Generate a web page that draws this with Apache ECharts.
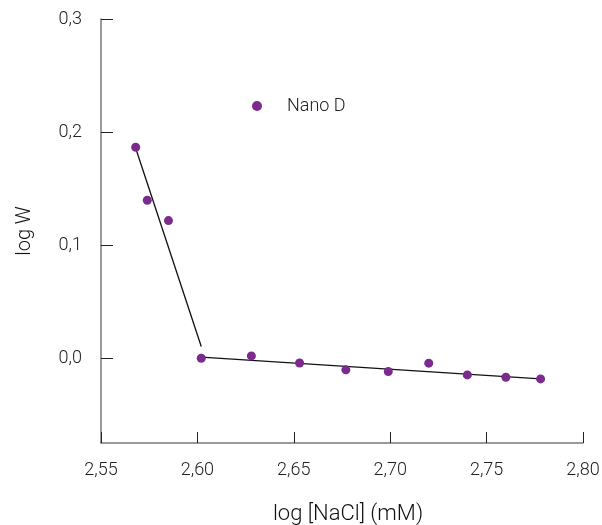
<!DOCTYPE html>
<html><head><meta charset="utf-8">
<script src="https://cdn.jsdelivr.net/npm/echarts@6/dist/echarts.min.js"></script>
<style>html,body{margin:0;padding:0;background:#fff}#c{width:602px;height:525px}</style>
</head><body><div id="c"></div>
<script>
const xValues = [2.568, 2.574, 2.585, 2.602, 2.628, 2.653, 2.677, 2.699, 2.720, 2.740, 2.760, 2.778];
const yValues = [0.1866, 0.1397, 0.1217, 0.0, 0.002, -0.0042, -0.0103, -0.0118, -0.0044, -0.0148, -0.0168, -0.0183];
const fit1 = [[2.568, 0.1857], [2.602, 0.0103]];
const fit2 = [[2.602, 0.0009], [2.778, -0.0183]];
const yTicks = [0, 0.1, 0.2, 0.3];
const seriesName = 'Nano D';

const fmt = (v, d) => v.toFixed(d).replace('.', ',');
const chart = echarts.init(document.getElementById('c'), null, {renderer: 'canvas'});
const font = 'Roboto, "Liberation Sans", sans-serif';
const fw = 300;
chart.setOption({
  animation: false,
  grid: {left: 101, right: 19, top: 19, bottom: 82, containLabel: false, outerBoundsMode: 'none'},
  legend: {
    data: [seriesName], left: 247, top: 92, itemWidth: 10, itemHeight: 10, itemGap: 10,
    formatter: n => '{t|' + n + '}',
    textStyle: {fontFamily: font, fontSize: 18, fontWeight: fw, color: '#222',
      rich: {t: {fontFamily: font, fontSize: 18, fontWeight: fw, color: '#222', padding: [0, 0, 0, 20]}}}
  },
  xAxis: {
    type: 'value', min: 2.55, max: 2.80, interval: 0.05,
    name: 'log [NaCl] (mM)', nameLocation: 'middle', nameGap: 60,
    nameTextStyle: {fontFamily: font, fontSize: 22, fontWeight: fw, color: '#111', padding: [0, 0, 0, 12]},
    axisLine: {onZero: false, lineStyle: {color: '#7a7a7a', width: 1.5}},
    axisTick: {inside: true, length: 11, lineStyle: {color: '#222', width: 1}},
    axisLabel: {fontFamily: font, fontSize: 18, fontWeight: fw, color: '#222', margin: 18, formatter: v => fmt(v, 2)},
    splitLine: {show: false}
  },
  yAxis: {
    type: 'value', min: -0.075, max: 0.3,
    name: 'log W', nameLocation: 'middle', nameGap: 66, nameRotate: 90,
    nameTextStyle: {fontFamily: font, fontSize: 20, fontWeight: fw, color: '#111'},
    axisLine: {onZero: false, lineStyle: {color: '#7a7a7a', width: 1.5}},
    axisTick: {inside: true, length: 12, customValues: yTicks, lineStyle: {color: '#222', width: 1}},
    axisLabel: {fontFamily: font, fontSize: 18, fontWeight: fw, color: '#222', margin: 19, customValues: yTicks, formatter: v => fmt(v, 1)},
    splitLine: {show: false}
  },
  series: [
    {name: seriesName, type: 'scatter', symbolSize: 9, itemStyle: {color: '#7b2a8e', opacity: 1},
     data: xValues.map((x, i) => [x, yValues[i]]), z: 3},
    {name: 'fit1', type: 'line', data: fit1, showSymbol: false, symbol: 'none',
     lineStyle: {color: '#111', width: 1.3}, z: 2},
    {name: 'fit2', type: 'line', data: fit2, showSymbol: false, symbol: 'none',
     lineStyle: {color: '#111', width: 1.3}, z: 2}
  ]
});
</script></body></html>
